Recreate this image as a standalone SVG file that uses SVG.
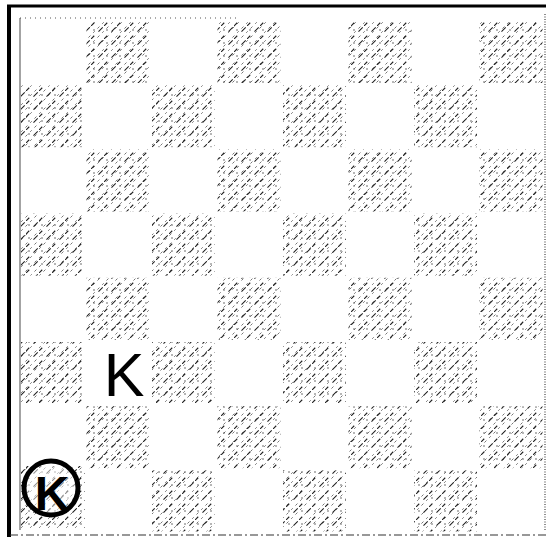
<svg xmlns="http://www.w3.org/2000/svg" width="551" height="539" viewBox="0 0 551 539">
<defs>
<pattern id="h" patternUnits="userSpaceOnUse" width="9" height="9">
<line x1="-1" y1="10" x2="10" y2="-1" stroke="#555" stroke-width="0.9" stroke-dasharray="2 4"/>
</pattern>
<pattern id="h2" patternUnits="userSpaceOnUse" width="13" height="13">
<line x1="-1" y1="14" x2="14" y2="-1" stroke="#222" stroke-width="1.1" stroke-dasharray="6 6"/>
<circle cx="3" cy="4" r="0.7" fill="#333"/>
</pattern>
</defs>
<style>
.d{fill:url(#h)}
.e{fill:url(#h2)}
</style>
<rect width="551" height="539" fill="#fff"/>
<g id="frame" fill="none">
<line x1="9" y1="5" x2="9" y2="537" stroke="#000" stroke-width="4"/>
<line x1="7" y1="6" x2="546" y2="6" stroke="#000" stroke-width="3"/>
<line x1="20" y1="18" x2="20" y2="530" stroke="#666" stroke-width="1.2"/>
<line x1="20" y1="18" x2="240" y2="18" stroke="#555" stroke-width="1" stroke-dasharray="1 4"/>
<line x1="545" y1="14" x2="545" y2="530" stroke="#444" stroke-width="1.2" stroke-dasharray="1 1.5"/>
<line x1="10" y1="535" x2="546" y2="535" stroke="#333" stroke-width="1.2" stroke-dasharray="8 3 2 3"/>
</g>
<g id="squares">
<rect class="d" x="86.5" y="21" width="63" height="62"/><rect class="e" x="86.5" y="21" width="63" height="62"/>
<rect class="d" x="217.5" y="21" width="63" height="62"/><rect class="e" x="217.5" y="21" width="63" height="62"/>
<rect class="d" x="348.5" y="21" width="63" height="62"/><rect class="e" x="348.5" y="21" width="63" height="62"/>
<rect class="d" x="479.5" y="21" width="63" height="62"/><rect class="e" x="479.5" y="21" width="63" height="62"/>
<rect class="d" x="21" y="85.2" width="63" height="62"/><rect class="e" x="21" y="85.2" width="63" height="62"/>
<rect class="d" x="152" y="85.2" width="63" height="62"/><rect class="e" x="152" y="85.2" width="63" height="62"/>
<rect class="d" x="283" y="85.2" width="63" height="62"/><rect class="e" x="283" y="85.2" width="63" height="62"/>
<rect class="d" x="414" y="85.2" width="63" height="62"/><rect class="e" x="414" y="85.2" width="63" height="62"/>
<rect class="d" x="86.5" y="149.4" width="63" height="62"/><rect class="e" x="86.5" y="149.4" width="63" height="62"/>
<rect class="d" x="217.5" y="149.4" width="63" height="62"/><rect class="e" x="217.5" y="149.4" width="63" height="62"/>
<rect class="d" x="348.5" y="149.4" width="63" height="62"/><rect class="e" x="348.5" y="149.4" width="63" height="62"/>
<rect class="d" x="479.5" y="149.4" width="63" height="62"/><rect class="e" x="479.5" y="149.4" width="63" height="62"/>
<rect class="d" x="21" y="213.6" width="63" height="62"/><rect class="e" x="21" y="213.6" width="63" height="62"/>
<rect class="d" x="152" y="213.6" width="63" height="62"/><rect class="e" x="152" y="213.6" width="63" height="62"/>
<rect class="d" x="283" y="213.6" width="63" height="62"/><rect class="e" x="283" y="213.6" width="63" height="62"/>
<rect class="d" x="414" y="213.6" width="63" height="62"/><rect class="e" x="414" y="213.6" width="63" height="62"/>
<rect class="d" x="86.5" y="277.8" width="63" height="62"/><rect class="e" x="86.5" y="277.8" width="63" height="62"/>
<rect class="d" x="217.5" y="277.8" width="63" height="62"/><rect class="e" x="217.5" y="277.8" width="63" height="62"/>
<rect class="d" x="348.5" y="277.8" width="63" height="62"/><rect class="e" x="348.5" y="277.8" width="63" height="62"/>
<rect class="d" x="479.5" y="277.8" width="63" height="62"/><rect class="e" x="479.5" y="277.8" width="63" height="62"/>
<rect class="d" x="21" y="342" width="63" height="62"/><rect class="e" x="21" y="342" width="63" height="62"/>
<rect class="d" x="152" y="342" width="63" height="62"/><rect class="e" x="152" y="342" width="63" height="62"/>
<rect class="d" x="283" y="342" width="63" height="62"/><rect class="e" x="283" y="342" width="63" height="62"/>
<rect class="d" x="414" y="342" width="63" height="62"/><rect class="e" x="414" y="342" width="63" height="62"/>
<rect class="d" x="86.5" y="406.2" width="63" height="62"/><rect class="e" x="86.5" y="406.2" width="63" height="62"/>
<rect class="d" x="217.5" y="406.2" width="63" height="62"/><rect class="e" x="217.5" y="406.2" width="63" height="62"/>
<rect class="d" x="348.5" y="406.2" width="63" height="62"/><rect class="e" x="348.5" y="406.2" width="63" height="62"/>
<rect class="d" x="479.5" y="406.2" width="63" height="62"/><rect class="e" x="479.5" y="406.2" width="63" height="62"/>
<rect class="d" x="21" y="466" width="64" height="62"/><rect class="e" x="21" y="466" width="64" height="62"/>
<rect class="d" x="152" y="470.4" width="63" height="61"/><rect class="e" x="152" y="470.4" width="63" height="61"/>
<rect class="d" x="283" y="470.4" width="63" height="61"/><rect class="e" x="283" y="470.4" width="63" height="61"/>
<rect class="d" x="414" y="470.4" width="63" height="61"/><rect class="e" x="414" y="470.4" width="63" height="61"/>
</g>
<g id="king">
<text x="124" y="396" font-family="Liberation Sans, Arial, sans-serif" font-size="61" text-anchor="middle" fill="#000">K</text>
</g>
<g id="circled-king">
<circle cx="51" cy="488" r="27" fill="#fff" fill-opacity="0.5" stroke="#000" stroke-width="5"/>
<text x="52" y="510" font-family="Liberation Sans, Arial, sans-serif" font-size="48" font-weight="bold" text-anchor="middle" fill="#000">K</text>
</g>
</svg>
